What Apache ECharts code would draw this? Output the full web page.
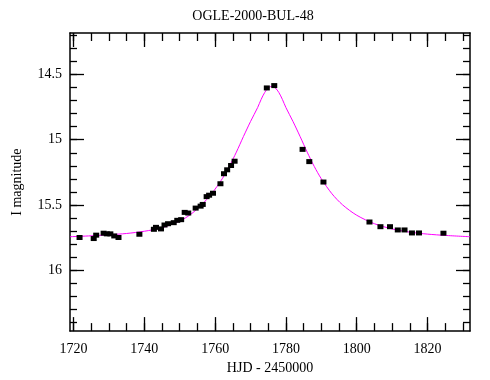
<!DOCTYPE html>
<html><head><meta charset="utf-8">
<script src="https://cdn.jsdelivr.net/npm/echarts@6/dist/echarts.min.js"></script>
<style>html,body{margin:0;padding:0;background:#fff}#c{width:490px;height:380px}</style>
</head><body><div id="c"></div>
<script>
const chartTitle = 'OGLE-2000-BUL-48';
const xName = 'HJD - 2450000';
const yName = 'I magnitude';
const obsDay = [1721.7,1725.7,1726.4,1728.5,1729.4,1730.4,1731.5,1732.7,1738.6,1742.7,1743.3,1744.7,1745.7,1746.7,1748.3,1749.3,1750.4,1751.4,1752.4,1754.5,1755.9,1756.5,1757.6,1758.3,1759.4,1761.5,1762.5,1763.4,1764.5,1765.5,1774.6,1776.7,1784.7,1786.6,1790.6,1803.6,1806.7,1809.4,1811.6,1813.5,1815.6,1817.6,1824.5];
const obsMag = [15.751,15.759,15.733,15.718,15.723,15.723,15.739,15.751,15.726,15.688,15.673,15.685,15.655,15.645,15.637,15.619,15.614,15.558,15.563,15.525,15.510,15.497,15.437,15.426,15.411,15.338,15.261,15.231,15.198,15.165,14.602,14.584,15.074,15.168,15.325,15.632,15.668,15.668,15.693,15.693,15.716,15.716,15.718];
const fitDay = [1719,1725,1730,1735,1740,1745,1750,1753,1756,1759,1762,1764,1766,1768,1770,1772,1773,1774,1775,1776,1777,1778,1779,1780,1782,1784,1786,1788,1790,1793,1796,1800,1805,1810,1815,1820,1825,1832];
const fitMag = [15.745,15.738,15.730,15.720,15.703,15.676,15.625,15.575,15.505,15.415,15.300,15.205,15.095,14.975,14.860,14.753,14.690,14.637,14.602,14.590,14.602,14.637,14.690,14.753,14.860,14.975,15.095,15.205,15.300,15.415,15.500,15.580,15.645,15.685,15.710,15.725,15.735,15.745];
const xMajorTicks = [1720,1740,1760,1780,1800,1820];
const xMinorTicks = [1720,1725,1730,1735,1740,1745,1750,1755,1760,1765,1770,1775,1780,1785,1790,1795,1800,1805,1810,1815,1820,1825,1830];
const yMajorTicks = [14.5,15,15.5,16];
const yMinorTicks = [14.2,14.3,14.4,14.5,14.6,14.7,14.8,14.9,15,15.1,15.2,15.3,15.4,15.5,15.6,15.7,15.8,15.9,16,16.1,16.2,16.3,16.4];

const X_MIN = 1719, X_MAX = 1832, Y_MIN = 14.18, Y_MAX = 16.47;
const FONT = "'Liberation Serif','DejaVu Serif',serif";
const lineStyle = {color:'#000', width:1.5};

function xAx(pos, ticks, len, withLabel, showLine){
  return {
    type:'value', position:pos, min:X_MIN, max:X_MAX, gridIndex:0,
    axisLine:{show:showLine, onZero:false, lineStyle},
    splitLine:{show:false},
    axisTick:{show:true, inside:true, length:len, customValues:ticks, lineStyle:{color:'#000', width:1.3}},
    axisLabel: withLabel ? {show:true, customValues:ticks, margin:11, color:'#000', fontFamily:FONT, fontSize:14, formatter:v=>String(v)} : {show:false},
    name: withLabel ? xName : '', nameLocation:'middle', nameGap:28,
    nameTextStyle:{color:'#000', fontFamily:FONT, fontSize:14}
  };
}
function yAx(pos, ticks, len, withLabel, showLine){
  return {
    type:'value', position:pos, min:Y_MIN, max:Y_MAX, inverse:true, gridIndex:0,
    axisLine:{show:showLine, onZero:false, lineStyle},
    splitLine:{show:false},
    axisTick:{show:true, inside:true, length:len, customValues:ticks, lineStyle:{color:'#000', width:1.3}},
    axisLabel: withLabel ? {show:true, customValues:ticks, margin:8, color:'#000', fontFamily:FONT, fontSize:14, formatter:v=>String(v)} : {show:false},
    name: withLabel ? yName : '', nameLocation:'middle', nameGap:46, nameRotate:90,
    nameTextStyle:{color:'#000', fontFamily:FONT, fontSize:14}
  };
}

const chart = echarts.init(document.getElementById('c'), null, {renderer:'canvas'});
chart.setOption({
  animation:false,
  backgroundColor:'#fff',
  title:{text:chartTitle, left:248, top:4, textAlign:'center',
    textStyle:{color:'#000', fontFamily:FONT, fontSize:14, fontWeight:'normal'}},
  grid:{left:70, right:20, top:33, bottom:47},
  xAxis:[
    xAx('bottom', xMajorTicks, 14, true, true),
    xAx('bottom', xMinorTicks, 8, false, false),
    xAx('top', xMajorTicks, 14, false, true),
    xAx('top', xMinorTicks, 8, false, false)
  ],
  yAxis:[
    yAx('left', yMajorTicks, 14, true, true),
    yAx('left', yMinorTicks, 7, false, false),
    yAx('right', yMajorTicks, 14, false, true),
    yAx('right', yMinorTicks, 7, false, false)
  ],
  series:[
    {type:'line', xAxisIndex:0, yAxisIndex:0, data:fitDay.map((d,i)=>[d,fitMag[i]]),
     smooth:0.3, showSymbol:false, symbol:'none', clip:true,
     lineStyle:{color:'#ff00ff', width:1}},
    {type:'scatter', xAxisIndex:0, yAxisIndex:0, data:obsDay.map((d,i)=>[d,obsMag[i]]),
     symbol:'rect', symbolSize:[6,5], itemStyle:{color:'#000', opacity:1}, z:3}
  ]
});
</script></body></html>
